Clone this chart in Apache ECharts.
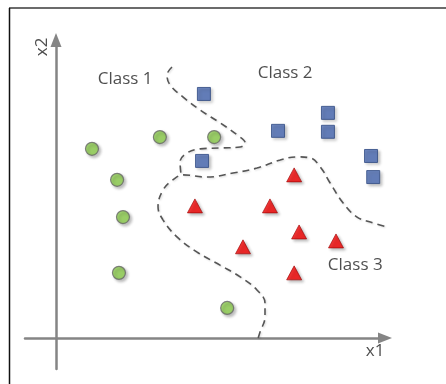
<!DOCTYPE html>
<html>
<head>
<meta charset="utf-8">
<script src="https://cdn.jsdelivr.net/npm/echarts@6/dist/echarts.min.js"></script>
<style>
  html, body { margin: 0; padding: 0; background: #fff; }
  #chart { width: 446px; height: 384px; }
</style>
</head>
<body>
<div id="chart"></div>
<script>
// data, in axis units (origin = where the axes cross)
var class1Points = [[1.16, 6.10], [3.35, 6.48], [5.10, 6.48], [1.97, 5.10], [2.16, 3.90], [2.03, 2.10], [5.52, 0.97]]
var class2Points = [[4.77, 7.87], [4.71, 5.71], [7.16, 6.68], [8.77, 7.26], [8.77, 6.65], [10.16, 5.87], [10.23, 5.19]]
var class3Points = [[7.68, 5.26], [6.90, 4.26], [4.48, 4.26], [7.84, 3.42], [9.03, 3.13], [6.03, 2.94], [7.68, 2.10]]

// dashed boundary between class 1 and class 2 (loop around the square)
var boundary12 = [[3.74, 8.74], [3.58, 8.48], [3.68, 8.16], [4.10, 7.77], [4.65, 7.35], [5.29, 6.94], [5.84, 6.55],
  [6.10, 6.29], [5.94, 6.16], [5.39, 6.13], [4.65, 6.10], [4.23, 5.97], [4.00, 5.68], [4.03, 5.29]]
// dashed boundary around class 3
var boundary3 = [[6.52, 0], [6.58, 0.19], [6.74, 0.68], [6.74, 1.13], [6.48, 1.55], [5.94, 1.97], [5.29, 2.35],
  [4.55, 2.77], [3.90, 3.26], [3.45, 3.81], [3.29, 4.23], [3.45, 4.77], [3.77, 5.10], [4.10, 5.26], [4.87, 5.19],
  [5.71, 5.32], [6.48, 5.48], [7.23, 5.74], [7.77, 5.84], [8.19, 5.81], [8.52, 5.52], [8.84, 5.00], [9.26, 4.35],
  [9.71, 3.90], [10.23, 3.71], [10.6, 3.6]]

// text labels
var classNames = ['Class 1', 'Class 2', 'Class 3']
var classLabelPos = [[2.23, 8.35], [7.39, 8.55], [9.65, 2.35]]
var axisNames = ['x1', 'x2']
var axisNamePos = [[10.29, -0.42], [-0.45, 9.39]]

var chart = echarts.init(document.getElementById('chart'), null, { renderer: 'canvas' })

var shadow = {
  shadowColor: 'rgba(0,0,0,0.3)',
  shadowBlur: 3,
  shadowOffsetX: 2,
  shadowOffsetY: 2
}

var labelData = []
classNames.forEach(function (n, i) {
  labelData.push({ value: classLabelPos[i], name: n })
})
axisNames.forEach(function (n, i) {
  labelData.push({ value: axisNamePos[i], name: n, label: { rotate: i == 1 ? 90 : 0 } })
})

var dashStyle = {
  color: '#555',
  width: 1.6,
  type: [7, 5],
  shadowColor: 'rgba(0,0,0,0.15)',
  shadowBlur: 2,
  shadowOffsetX: 1,
  shadowOffsetY: 1
}

var axisLineStyle = {
  show: true,
  onZero: true,
  symbol: ['none', 'triangle'],
  symbolSize: [11, 14],
  lineStyle: { color: '#858585', width: 2.5 }
}

var option = {
  animation: false,
  backgroundColor: '#fff',
  grid: { left: 25, right: 61, top: 40, bottom: 15 },
  xAxis: {
    type: 'value',
    min: -1,
    max: 10.61,
    axisLine: axisLineStyle,
    axisTick: { show: false },
    axisLabel: { show: false },
    splitLine: { show: false }
  },
  yAxis: {
    type: 'value',
    min: -1,
    max: 9.61,
    axisLine: axisLineStyle,
    axisTick: { show: false },
    axisLabel: { show: false },
    splitLine: { show: false }
  },
  graphic: [
    { type: 'line', shape: { x1: 9, y1: 8, x2: 446, y2: 8 }, style: { stroke: '#6b6b6b', lineWidth: 2 } },
    { type: 'line', shape: { x1: 9.5, y1: 8, x2: 9.5, y2: 384 }, style: { stroke: '#111', lineWidth: 1.5 } }
  ],
  series: [
    {
      type: 'line',
      data: boundary12,
      smooth: 0.4,
      showSymbol: false,
      clip: false,
      lineStyle: dashStyle
    },
    {
      type: 'line',
      data: boundary3,
      smooth: 0.4,
      showSymbol: false,
      clip: false,
      lineStyle: dashStyle
    },
    {
      type: 'scatter',
      data: class1Points,
      symbol: 'circle',
      symbolSize: 13,
      itemStyle: Object.assign({ color: '#8fcf4f', borderColor: '#666', borderWidth: 1.2 }, shadow)
    },
    {
      type: 'scatter',
      data: class2Points,
      symbol: 'rect',
      symbolSize: 13,
      itemStyle: Object.assign({ color: '#4a6ab4', borderColor: '#2f4a82', borderWidth: 1 }, shadow)
    },
    {
      type: 'scatter',
      data: class3Points,
      symbol: 'triangle',
      symbolSize: [15, 14],
      itemStyle: Object.assign({ color: '#f20000', borderColor: '#9a0000', borderWidth: 0.8 }, shadow)
    },
    {
      type: 'scatter',
      data: labelData,
      symbolSize: 0,
      silent: true,
      label: {
        show: true,
        position: 'inside',
        formatter: '{b}',
        color: '#222',
        fontSize: 17,
        fontFamily: 'Open Sans'
      }
    }
  ]
}

chart.setOption(option)
</script>
</body>
</html>
